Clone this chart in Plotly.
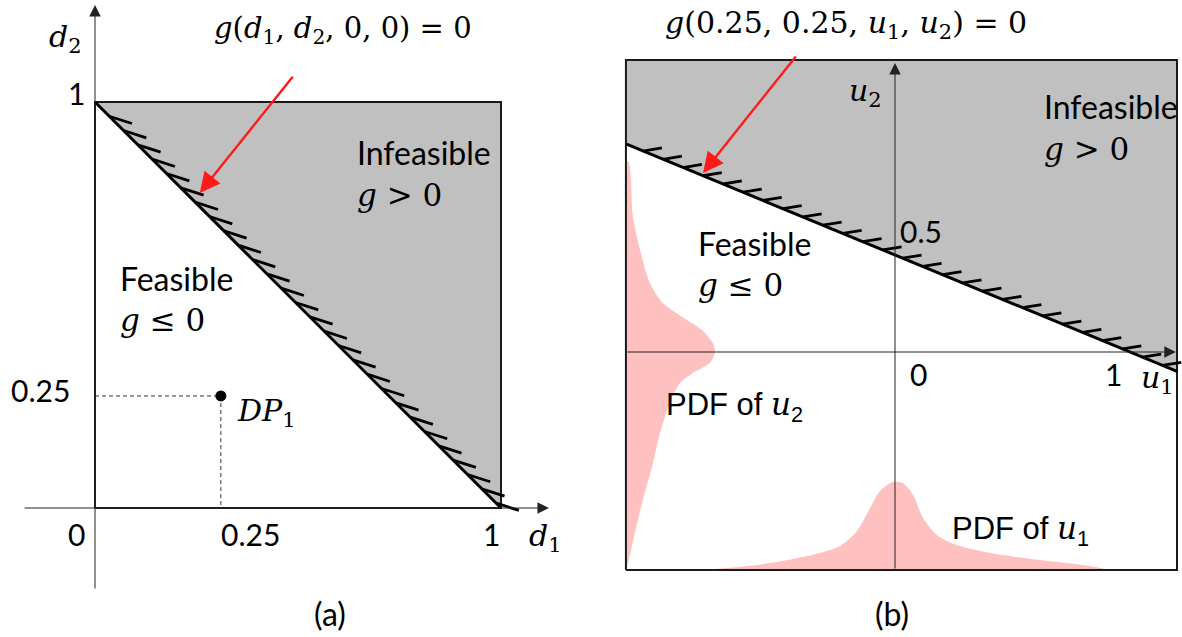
import numpy as np
import plotly.graph_objects as go

# ---------------- data: panel (a), design space ----------------
box_a_d1 = [0.0, 1.0]
box_a_d2 = [0.0, 1.0]
limit_a_d1 = [0.0, 1.0]          # g(d1, d2, 0, 0) = 0
limit_a_d2 = [1.0, 0.0]
axis_a_d1 = [-0.177, 1.118]      # drawn extent of the d1 axis
axis_a_d2 = [-0.202, 1.239]      # drawn extent of the d2 axis
dp1 = [0.31, 0.276]              # DP1 as placed in the (not-to-scale) sketch
arrow_a = [[0.49, 1.066], [0.258, 0.776]]   # red arrow tail, tip
ticks_a_x = ["0", "0.25", "1"]
ticks_a_y = ["0.25", "1"]

# ---------------- data: panel (b), uncertainty space ----------------
box_b_u1 = [-1.145, 1.2]
box_b_u2 = [-1.124, 1.505]
limit_b_u1 = [-1.145, 1.2]       # g(0.25, 0.25, u1, u2) = 0
limit_b_u2 = [1.0725, -0.1]
axis_b_u1 = [-1.145, 1.195]
axis_b_u2 = [-1.124, 1.49]
arrow_b = [[-0.417, 1.531], [-0.817, 0.923]]  # red arrow tail, tip
ticks_b = ["0", "0.5", "1"]

# PDF of u1 (along the bottom edge)
pdf_u1_u = [-0.817, -0.587, -0.374, -0.234, -0.162, -0.106, -0.064, -0.009,
            0.034, 0.077, 0.119, 0.179, 0.264, 0.404, 0.617, 0.830, 0.915]
pdf_u1_h = [0.0, 0.026, 0.072, 0.124, 0.201, 0.320, 0.407, 0.454,
            0.448, 0.387, 0.268, 0.180, 0.129, 0.088, 0.052, 0.021, 0.0]
# PDF of u2 (along the left edge)
pdf_u2_u = [0.990, 0.974, 0.696, 0.526, 0.356, 0.253, 0.165, 0.113, 0.046, 0.0,
            -0.057, -0.108, -0.160, -0.263, -0.418, -0.593, -0.763, -0.933, -1.088, -1.124]
pdf_u2_w = [0.0, 0.013, 0.030, 0.060, 0.102, 0.157, 0.260, 0.323, 0.370, 0.379,
            0.357, 0.285, 0.230, 0.187, 0.145, 0.111, 0.072, 0.038, 0.009, 0.0]

# ---------------- styling ----------------
GRAY = "#c0c0c0"
PINK = "rgb(255,192,192)"
EDGE = "#1a1a1a"
RED = "#ff1a1a"
SANS = "Lato"
SERIF = "DejaVu Serif"
ARIAL = "Liberation Sans"

fig = go.Figure()

# ----- panel (a) -----
fig.add_trace(go.Scatter(
    x=[limit_a_d1[0], box_a_d1[1], limit_a_d1[1]],
    y=[limit_a_d2[0], box_a_d2[1], limit_a_d2[1]],
    fill="toself", fillcolor=GRAY, line=dict(width=0), mode="lines",
    xaxis="x", yaxis="y", hoverinfo="skip"))
fig.add_trace(go.Scatter(
    x=[box_a_d1[0], box_a_d1[1], box_a_d1[1], box_a_d1[0], box_a_d1[0]],
    y=[box_a_d2[0], box_a_d2[0], box_a_d2[1], box_a_d2[1], box_a_d2[0]],
    mode="lines", line=dict(color=EDGE, width=2), xaxis="x", yaxis="y", hoverinfo="skip"))
fig.add_trace(go.Scatter(x=limit_a_d1, y=limit_a_d2, mode="lines",
                         line=dict(color="black", width=3), xaxis="x", yaxis="y", hoverinfo="skip"))
# hatches on the infeasible side
ha = np.linspace(0.035, 0.988, 28)
ha_y = np.interp(ha, limit_a_d1, limit_a_d2)
hx, hy = [], []
for x0, y0 in zip(ha, ha_y):
    hx += [x0, x0 + 0.056, None]
    hy += [y0, y0 - 0.018, None]
fig.add_trace(go.Scatter(x=hx, y=hy, mode="lines", line=dict(color="black", width=2.8),
                         xaxis="x", yaxis="y", hoverinfo="skip"))
# dashed guides and DP1
fig.add_trace(go.Scatter(x=[box_a_d1[0], dp1[0], dp1[0]], y=[dp1[1], dp1[1], box_a_d2[0]],
                         mode="lines", line=dict(color="#333", width=1, dash="4px,3px"),
                         xaxis="x", yaxis="y", hoverinfo="skip"))
fig.add_trace(go.Scatter(x=[dp1[0]], y=[dp1[1]], mode="markers",
                         marker=dict(color="black", size=11), xaxis="x", yaxis="y", hoverinfo="skip"))

# ----- panel (b) -----
fig.add_trace(go.Scatter(
    x=[limit_b_u1[0], box_b_u1[0], box_b_u1[1], limit_b_u1[1]],
    y=[limit_b_u2[0], box_b_u2[1], box_b_u2[1], limit_b_u2[1]],
    fill="toself", fillcolor=GRAY, line=dict(width=0), mode="lines",
    xaxis="x2", yaxis="y2", hoverinfo="skip"))
fig.add_trace(go.Scatter(
    x=pdf_u1_u, y=[box_b_u2[0] + h for h in pdf_u1_h],
    fill="toself", fillcolor=PINK, line=dict(width=0, shape="spline", smoothing=0.8),
    mode="lines", xaxis="x2", yaxis="y2", hoverinfo="skip"))
fig.add_trace(go.Scatter(
    x=[box_b_u1[0] + w for w in pdf_u2_w], y=pdf_u2_u,
    fill="toself", fillcolor=PINK, line=dict(width=0, shape="spline", smoothing=0.8),
    mode="lines", xaxis="x2", yaxis="y2", hoverinfo="skip"))
fig.add_trace(go.Scatter(
    x=[box_b_u1[0], box_b_u1[1], box_b_u1[1], box_b_u1[0], box_b_u1[0]],
    y=[box_b_u2[0], box_b_u2[0], box_b_u2[1], box_b_u2[1], box_b_u2[0]],
    mode="lines", line=dict(color=EDGE, width=2), xaxis="x2", yaxis="y2", hoverinfo="skip"))
fig.add_trace(go.Scatter(x=limit_b_u1, y=limit_b_u2, mode="lines",
                         line=dict(color="black", width=3), xaxis="x2", yaxis="y2", hoverinfo="skip"))
hb = np.linspace(-1.072, 1.138, 27)
hb_y = np.interp(hb, limit_b_u1, limit_b_u2)
hx, hy = [], []
for x0, y0 in zip(hb, hb_y):
    hx += [x0, x0 + 0.08, None]
    hy += [y0, y0 + 0.016, None]
fig.add_trace(go.Scatter(x=hx, y=hy, mode="lines", line=dict(color="black", width=2.8),
                         xaxis="x2", yaxis="y2", hoverinfo="skip"))

# ---------------- annotations ----------------
def pa(px, py):
    return (px - 95) / 406, (508 - py) / 406

def pb(px, py):
    return (px - 895) / 235, (352 - py) / 194

ann = []

def txt(panel, px, py, text, size, family, xanchor="center", yanchor="middle"):
    if panel == "a":
        x, y = pa(px, py); xr, yr = "x", "y"
    else:
        x, y = pb(px, py); xr, yr = "x2", "y2"
    ann.append(dict(x=x, y=y, xref=xr, yref=yr, text=text, showarrow=False,
                    xanchor=xanchor, yanchor=yanchor,
                    font=dict(size=size, family=family, color="black")))

def arrow(xr, yr, tail, tip, color, width, size):
    ann.append(dict(x=tip[0], y=tip[1], ax=tail[0], ay=tail[1], xref=xr, yref=yr,
                    axref=xr, ayref=yr, text="", showarrow=True, arrowhead=2,
                    arrowsize=size, arrowwidth=width, arrowcolor=color))

# axes with arrowheads
arrow("x", "y", [axis_a_d1[0], 0], [axis_a_d1[1], 0], "#222", 1, 2.3)
arrow("x", "y", [0, axis_a_d2[0]], [0, axis_a_d2[1]], "#222", 1, 2.3)
arrow("x2", "y2", [axis_b_u1[0], 0], [axis_b_u1[1], 0], "#222", 1, 2.3)
arrow("x2", "y2", [0, axis_b_u2[0]], [0, axis_b_u2[1]], "#222", 1, 2.3)
# red pointers
arrow("x", "y", arrow_a[0], arrow_a[1], RED, 2.4, 1.7)
arrow("x2", "y2", arrow_b[0], arrow_b[1], RED, 2.4, 1.7)

# panel (a) texts
txt("a", 343, 30, "<i>g</i>(<i>d</i><sub>1</sub>, <i>d</i><sub>2</sub>, 0, 0) = 0", 29, SERIF)
txt("a", 355, 152, "Infeasible", 32, SANS, xanchor="left")
txt("a", 355, 195, "<i>g</i> &gt; 0", 31, SERIF, xanchor="left")
txt("a", 118, 278, "Feasible", 32, SANS, xanchor="left")
txt("a", 118, 320, "<i>g</i> ≤ 0", 31, SERIF, xanchor="left")
txt("a", 65, 38, "<i>d</i><sub>2</sub>", 30, SERIF)
txt("a", 545, 537, "<i>d</i><sub>1</sub>", 30, SERIF)
txt("a", 76, 93, ticks_a_y[1], 30, SANS)
txt("a", 40, 390, ticks_a_y[0], 30, SANS)
txt("a", 76, 534, ticks_a_x[0], 30, SANS)
txt("a", 250, 534, ticks_a_x[1], 30, SANS)
txt("a", 491, 534, ticks_a_x[2], 30, SANS)
txt("a", 266, 412, "<i>DP</i><sub>1</sub>", 30, SERIF)
txt("a", 330, 613, "(a)", 32, SANS)

# panel (b) texts
txt("b", 846, 24, "<i>g</i>(0.25, 0.25, <i>u</i><sub>1</sub>, <i>u</i><sub>2</sub>) = 0", 30, SERIF)
txt("b", 865, 92, "<i>u</i><sub>2</sub>", 30, SERIF)
txt("b", 1042, 106, "Infeasible", 32, SANS, xanchor="left")
txt("b", 1042, 149, "<i>g</i> &gt; 0", 31, SERIF, xanchor="left")
txt("b", 921, 231, ticks_b[1], 30, SANS)
txt("b", 696, 243, "Feasible", 32, SANS, xanchor="left")
txt("b", 696, 285, "<i>g</i> ≤ 0", 31, SERIF, xanchor="left")
txt("b", 918, 374, ticks_b[0], 30, SANS)
txt("b", 1113, 374, ticks_b[2], 30, SANS)
txt("b", 1157, 379, "<i>u</i><sub>1</sub>", 30, SERIF)
txt("b", 664, 406, "PDF of <i style='font-family:DejaVu Serif'>u</i><sub>2</sub>", 31, ARIAL, xanchor="left")
txt("b", 950, 530, "PDF of <i style='font-family:DejaVu Serif'>u</i><sub>1</sub>", 31, ARIAL, xanchor="left")
txt("b", 892, 613, "(b)", 32, SANS)

ax_common = dict(visible=False, showgrid=False, zeroline=False, fixedrange=True)
fig.update_layout(
    width=1182, height=637, margin=dict(l=0, r=0, t=0, b=0),
    paper_bgcolor="white", plot_bgcolor="rgba(0,0,0,0)", showlegend=False,
    xaxis=dict(domain=[0, 0.5], range=[-95 / 406, (591 - 95) / 406], anchor="y", **ax_common),
    yaxis=dict(domain=[0, 1], range=[(508 - 637) / 406, 508 / 406], anchor="x", **ax_common),
    xaxis2=dict(domain=[0.5, 1], range=[(591 - 895) / 235, (1182 - 895) / 235], anchor="y2", **ax_common),
    yaxis2=dict(domain=[0, 1], range=[(352 - 637) / 194, 352 / 194], anchor="x2", **ax_common),
    annotations=ann,
)
fig.write_html("out.html", config={"displayModeBar": False},
               post_script="document.body.style.margin='0px';document.body.style.overflow='hidden';")
